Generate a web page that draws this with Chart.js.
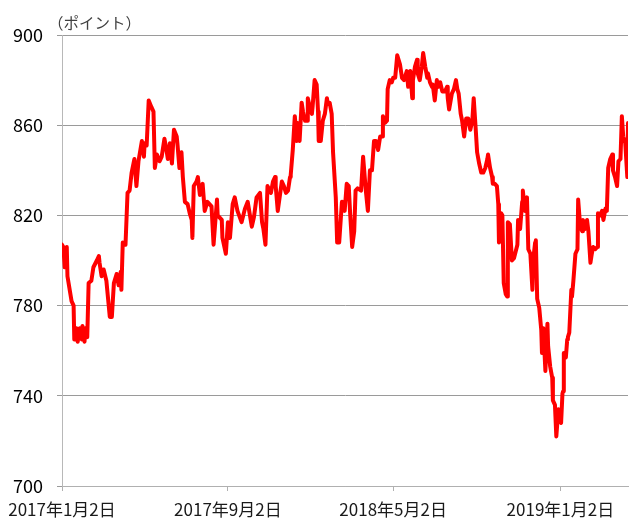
<!DOCTYPE html>
<html>
<head>
<meta charset="utf-8">
<script src="https://cdn.jsdelivr.net/npm/chart.js@4/dist/chart.umd.min.js"></script>
<style>
body { margin: 0; background: #fff; }
#wrap { width: 629px; height: 518px; position: relative; }
</style>
</head>
<body>
<div id="wrap"><canvas id="chart1"></canvas></div>
<script>
// days counted from 2017-01-02
var days = [
  0, 2, 4, 7, 8, 14, 17, 18, 21, 23, 26, 29, 30, 33, 34, 37, 39, 43, 46, 51,
  54, 55, 58, 61, 65, 70, 73, 76, 80, 83, 86, 87, 89, 93, 96, 99, 102, 106, 109, 112,
  117, 120, 121, 124, 127, 131, 134, 136, 139, 143, 146, 150, 153, 155, 158, 161, 164, 168, 169, 172,
  175, 177, 180, 184, 187, 190, 191, 193, 197, 199, 202, 206, 209, 213, 219, 222, 227, 228, 234, 235,
  240, 243, 246, 250, 253, 257, 263, 268, 272, 278, 281, 285, 290, 293, 295, 298, 301, 306, 309, 312,
  313, 316, 322, 325, 328, 331, 334, 335, 338, 341, 344, 345, 348, 351, 353, 356, 359, 360, 363, 366,
  367, 370, 373, 375, 376, 379, 382, 385, 388, 389, 392, 395, 397, 401, 403, 406, 410, 413, 414, 417,
  420, 422, 425, 428, 430, 433, 438, 441, 445, 448, 451, 454, 457, 460, 463, 466, 469, 470, 473, 476,
  477, 480, 483, 485, 488, 491, 492, 495, 498, 501, 505, 507, 510, 513, 514, 517, 520, 521, 524, 527,
  529, 532, 535, 536, 539, 542, 543, 546, 549, 551, 554, 557, 561, 564, 565, 567, 571, 574, 577, 579,
  581, 584, 586, 589, 592, 595, 598, 601, 603, 606, 608, 611, 614, 617, 620, 623, 624, 627, 630, 631,
  634, 637, 639, 640, 643, 645, 647, 650, 652, 653, 656, 659, 662, 667, 668, 671, 674, 675, 678, 681,
  683, 686, 689, 690, 693, 694, 696, 699, 702, 703, 705, 708, 711, 712, 715, 718, 719, 722, 724, 727,
  728, 731, 733, 734, 735, 738, 740, 741, 743, 746, 747, 749, 752, 755, 756, 759, 762, 763, 766, 769,
  771, 774, 776, 778, 781, 784, 785, 788, 791, 793, 796, 798, 800, 803, 806, 807, 810, 813, 815, 818,
  820, 822, 825, 828, 829
];
var points = [
  807, 806, 797, 806, 793, 782, 780, 765, 770, 764, 770, 765, 771, 764, 770, 766, 790, 791, 797, 800,
  802, 799, 793, 796, 791, 775, 775, 790, 794, 789, 795, 787, 808, 807, 830, 831, 839, 845, 833, 844,
  853, 846, 852, 851, 871, 868, 866, 841, 847, 844, 846, 854, 849, 845, 852, 843, 858, 855, 852, 841,
  848, 837, 826, 825, 821, 818, 810, 833, 835, 837, 829, 834, 822, 826, 824, 807, 827, 820, 818, 810,
  803, 817, 810, 825, 828, 822, 817, 823, 826, 815, 819, 828, 830, 817, 814, 807, 833, 830, 835, 837,
  833, 822, 835, 833, 830, 831, 837, 838, 849, 864, 853, 861, 853, 870, 866, 862, 862, 872, 868, 865,
  868, 880, 878, 866, 853, 853, 862, 865, 872, 870, 870, 865, 848, 828, 808, 808, 826, 824, 822, 834,
  833, 821, 806, 813, 831, 832, 831, 846, 831, 822, 840, 840, 853, 853, 849, 855, 855, 864, 861, 862,
  876, 880, 879, 881, 881, 891, 891, 887, 881, 880, 884, 877, 884, 872, 880, 886, 889, 883, 880, 886,
  892, 886, 881, 883, 879, 877, 878, 871, 880, 877, 879, 875, 875, 877, 872, 867, 874, 876, 880, 876,
  874, 865, 862, 855, 863, 863, 858, 862, 872, 858, 848, 843, 839, 839, 841, 845, 847, 841, 837, 834,
  834, 833, 825, 808, 821, 820, 790, 785, 784, 817, 816, 800, 801, 807, 818, 814, 826, 831, 822, 828,
  805, 803, 787, 800, 808, 809, 783, 779, 769, 759, 770, 751, 772, 762, 753, 748, 738, 736, 722, 734,
  730, 728, 741, 742, 759, 757, 765, 766, 768, 787, 784, 791, 803, 805, 827, 815, 813, 818, 814, 818,
  813, 799, 803, 806, 805, 806, 821, 820, 822, 818, 823, 822, 841, 845, 847, 840, 837, 833, 844, 845,
  864, 855, 852, 837, 861
];
var tickDays = [0, 243, 485, 730];
var tickLabels = ["2017年1月2日", "2017年9月2日", "2018年5月2日", "2019年1月2日"];
var unitLabel = "（ポイント）";
var lastDay = 829;

var lineData = days.map(function(d, i){ return {x: d, y: points[i]}; });

var unitPlugin = {
  id: 'unitLabel',
  afterDraw: function(chart){
    var ctx = chart.ctx;
    ctx.save();
    ctx.font = '15.5px "Noto Sans CJK JP"';
    ctx.fillStyle = '#404040';
    ctx.textBaseline = 'middle';
    ctx.textAlign = 'left';
    ctx.fillText(unitLabel, 48, 23);
    ctx.restore();
  }
};

const config = {
  type: 'line',
  data: {
    datasets: [{
      label: 'index',
      data: lineData,
      borderColor: '#ff0000',
      backgroundColor: '#ff0000',
      borderWidth: 4,
      borderJoinStyle: 'round',
      borderCapStyle: 'round',
      pointRadius: 0,
      tension: 0,
      fill: false
    }]
  },
  options: {
    responsive: true,
    maintainAspectRatio: false,
    animation: false,
    layout: { padding: { top: 35, right: 1, left: 0, bottom: 0 } },
    plugins: {
      legend: { display: false },
      tooltip: { enabled: false }
    },
    scales: {
      x: {
        type: 'linear',
        min: 0,
        max: lastDay,
        afterBuildTicks: function(scale){
          scale.ticks = tickDays.map(function(v){ return {value: v}; });
        },
        afterFit: function(scale){ scale.height = 32; },
        grid: {
          drawOnChartArea: false,
          tickLength: 5,
          color: '#b0b0b0'
        },
        border: { color: '#b0b0b0' },
        ticks: {
          autoSkip: false,
          maxRotation: 0,
          padding: 8,
          color: '#1a1a1a',
          font: { family: '"Noto Sans CJK JP"', size: 17 },
          callback: function(value){
            var i = tickDays.indexOf(value);
            return i >= 0 ? tickLabels[i] : '';
          }
        }
      },
      y: {
        min: 700,
        max: 900,
        afterFit: function(scale){ scale.width = 62; },
        grid: {
          tickLength: 5,
          color: '#9a9a9a'
        },
        border: { color: '#b8b8b8' },
        ticks: {
          stepSize: 40,
          padding: 14,
          color: '#000',
          font: { family: '"Noto Sans CJK JP"', size: 18 }
        }
      }
    }
  },
  plugins: [unitPlugin]
};

function makegraph(){
  var ctx = document.getElementById('chart1');
  var chart = new Chart(ctx, config);
  return chart;
}
makegraph();
</script>
</body>
</html>
